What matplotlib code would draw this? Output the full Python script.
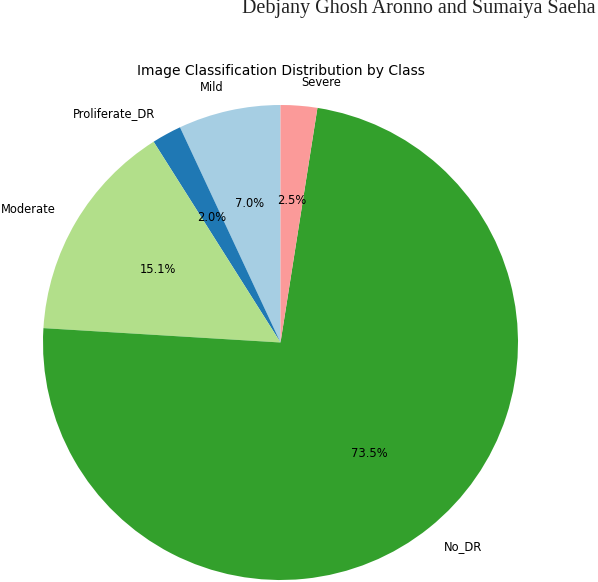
import numpy as np
import matplotlib
matplotlib.use("Agg")
from matplotlib import pyplot as plt

# ---Data: class counts consistent with the percentages shown---
classes = ['Mild', 'Proliferate_DR', 'Moderate', 'No_DR', 'Severe']
counts = [2443, 708, 5292, 25810, 873]
colors = plt.cm.Paired(np.arange(len(classes)))

title = 'Image Classification Distribution by Class'
header = 'Debjany Ghosh Aronno and Sumaiya Saeha'

W, H = 598, 582
fig = plt.figure(figsize=(W / 100, H / 100), dpi=100)
ax = fig.add_axes([0, 0, 1, 1])

wedges, texts, autotexts = ax.pie(counts, labels=classes, colors=colors,
                                  autopct='%1.1f%%', startangle=90,
                                  textprops={'fontsize': 8.3})

# pie centre / radius in pixels (from the reference)
cx, cy, r = 280.5, 342.5, 237.5
ax.set_xlim(-cx / r, (W - cx) / r)
ax.set_ylim(-(H - cy) / r, cy / r)

fig.text(cx / W, 1 - 75 / H, title, ha='center', va='baseline', fontsize=10)
fig.text(595 / W, 1 - 13.3 / H, header, ha='right', va='baseline',
         fontsize=14.5, family='Liberation Serif', color='#222222')

plt.savefig('out.png', dpi=100)
